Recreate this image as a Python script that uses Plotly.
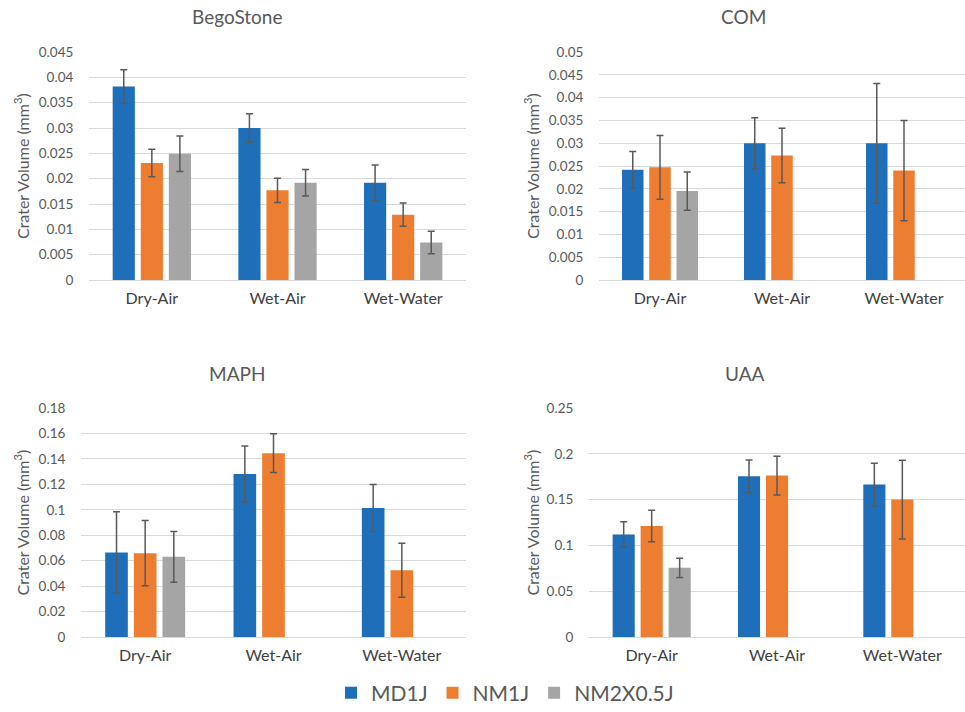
import plotly.graph_objects as go
from plotly.subplots import make_subplots

categories = ["Dry-Air", "Wet-Air", "Wet-Water"]
series_names = ["MD1J", "NM1J", "NM2X0.5J"]
colors = ["#1F6EBA", "#ED7D31", "#A5A5A5"]

# BegoStone
bego_md1j = [0.0382, 0.0300, 0.0192]
bego_md1j_err = [0.0033, 0.0028, 0.0035]
bego_nm1j = [0.0231, 0.0177, 0.0129]
bego_nm1j_err = [0.0027, 0.0024, 0.0023]
bego_nm2 = [0.0249, 0.0192, 0.0074]
bego_nm2_err = [0.0035, 0.0026, 0.0022]

# COM
com_md1j = [0.0242, 0.0300, 0.0300]
com_md1j_err = [0.0040, 0.0056, 0.0131]
com_nm1j = [0.0247, 0.0273, 0.0240]
com_nm1j_err = [0.0070, 0.0060, 0.0110]
com_nm2 = [0.0195, None, None]
com_nm2_err = [0.0042, None, None]

# MAPH
maph_md1j = [0.0665, 0.1282, 0.1014]
maph_md1j_err = [0.0320, 0.0220, 0.0185]
maph_nm1j = [0.0659, 0.1445, 0.0525]
maph_nm1j_err = [0.0257, 0.0152, 0.0212]
maph_nm2 = [0.0630, None, None]
maph_nm2_err = [0.0200, None, None]

# UAA
uaa_md1j = [0.1120, 0.1755, 0.1664]
uaa_md1j_err = [0.0137, 0.0177, 0.0233]
uaa_nm1j = [0.1212, 0.1762, 0.1500]
uaa_nm1j_err = [0.0173, 0.0212, 0.0430]
uaa_nm2 = [0.0755, None, None]
uaa_nm2_err = [0.0105, None, None]

panels = [
    ("BegoStone", [bego_md1j, bego_nm1j, bego_nm2], [bego_md1j_err, bego_nm1j_err, bego_nm2_err], 0.045, 0.005),
    ("COM", [com_md1j, com_nm1j, com_nm2], [com_md1j_err, com_nm1j_err, com_nm2_err], 0.05, 0.005),
    ("MAPH", [maph_md1j, maph_nm1j, maph_nm2], [maph_md1j_err, maph_nm1j_err, maph_nm2_err], 0.18, 0.02),
    ("UAA", [uaa_md1j, uaa_nm1j, uaa_nm2], [uaa_md1j_err, uaa_nm1j_err, uaa_nm2_err], 0.25, 0.05),
]

W, H = 965, 712
# plot-area pixel boxes: (left, right, top, bottom)
boxes = [(89, 466, 52, 280), (599, 965, 52, 280), (81, 466, 408, 637), (589, 965, 408, 637)]
title_pos = [(237, 17), (743, 17), (237, 373), (745, 373)]
ytitle_x = [22, 532, 22, 532]

FONT = "Lato, Open Sans, sans-serif"
fig = make_subplots(rows=2, cols=2)

for i, (title, vals, errs, ymax, dtick) in enumerate(panels):
    r, c = i // 2 + 1, i % 2 + 1
    for s in range(3):
        fig.add_trace(go.Bar(
            x=categories, y=vals[s], name=series_names[s],
            marker=dict(color=colors[s], line=dict(width=0)),
            error_y=dict(type="data", array=errs[s], visible=True,
                         color="#595959", thickness=1.5, width=3.5),
            showlegend=(i == 0), legendgroup=series_names[s],
        ), row=r, col=c)
    L, R, T, B = boxes[i]
    xa = "xaxis" if i == 0 else f"xaxis{i+1}"
    ya = "yaxis" if i == 0 else f"yaxis{i+1}"
    fig.layout[xa].update(domain=[L / W, R / W], showgrid=False, showline=False,
                          automargin=False,
                          ticks="outside", ticklen=4, tickcolor="rgba(0,0,0,0)",
                          tickfont=dict(family=FONT, size=16, color="#404040"))
    fig.layout[ya].update(domain=[1 - B / H, 1 - T / H], range=[0, ymax], dtick=dtick,
                          automargin=False,
                          showgrid=True, gridcolor="#D9D9D9", gridwidth=1,
                          zeroline=True, zerolinecolor="#D9D9D9", zerolinewidth=1,
                          showline=False, ticks="outside", ticklen=12,
                          tickcolor="rgba(0,0,0,0)",
                          tickfont=dict(family=FONT, size=13.5, color="#595959"),
                          tickformat="~g")
    tx, ty = title_pos[i]
    fig.add_annotation(text=title, x=tx / W, y=1 - ty / H, xref="paper", yref="paper",
                       showarrow=False, xanchor="center", yanchor="middle",
                       font=dict(family=FONT, size=19, color="#595959"))
    fig.add_annotation(text="Crater Volume (mm<sup>3</sup>)", x=ytitle_x[i] / W,
                       y=1 - (T + B) / 2 / H, xref="paper", yref="paper",
                       textangle=-90, showarrow=False, xanchor="center", yanchor="middle",
                       font=dict(family=FONT, size=16, color="#595959"))

fig.update_layout(
    width=W, height=H, margin=dict(l=0, r=0, t=0, b=0, autoexpand=False),
    paper_bgcolor="white", plot_bgcolor="white",
    barmode="group", bargap=0.33, bargroupgap=0.21,
    font=dict(family=FONT),
    legend=dict(orientation="h", x=(505 / W), xanchor="center", y=1 - 693 / H, yanchor="middle",
                font=dict(family=FONT, size=21, color="#595959"), itemwidth=30,
                traceorder="normal"),
)

fig.write_html("out.html", config={"displayModeBar": False},
               post_script="document.body.style.margin='0';")
